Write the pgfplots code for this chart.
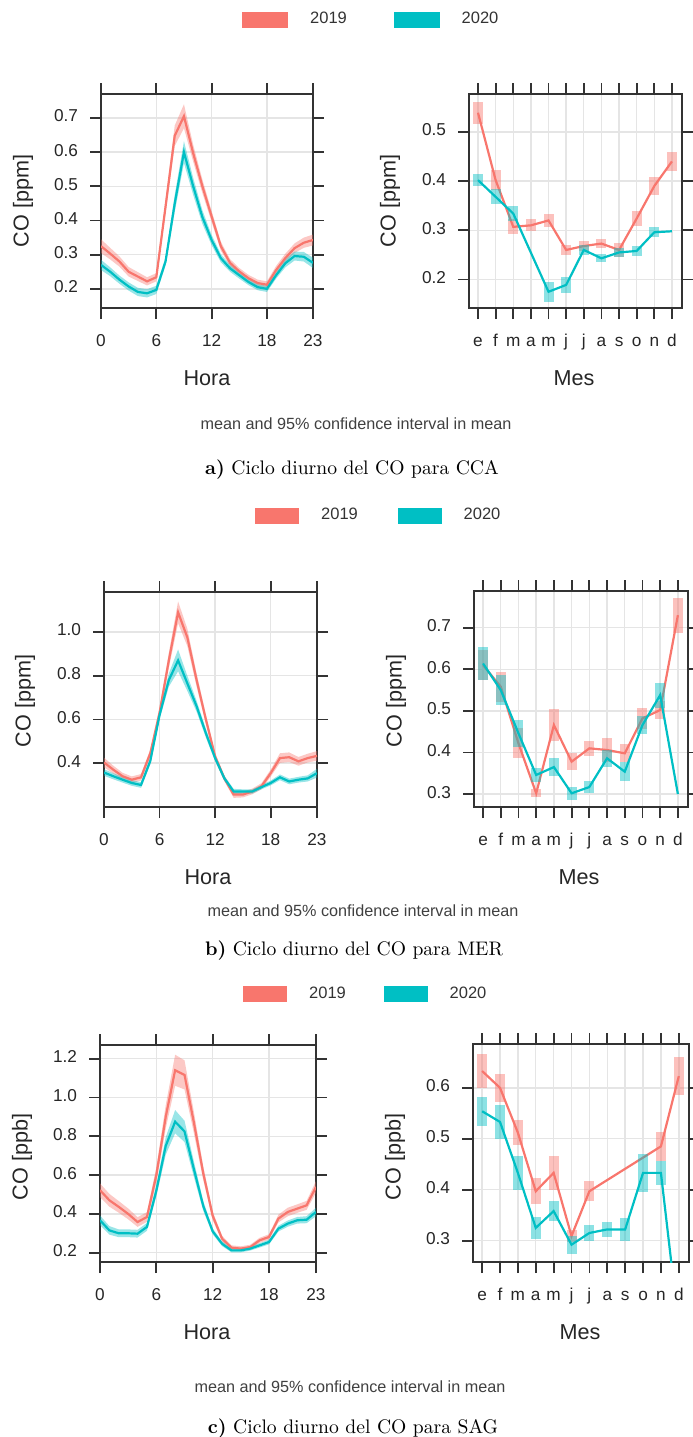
\documentclass[border=0pt]{standalone}
\usepackage{fontspec}
\usepackage{pgfplots}
\usepackage{pgfplotstable}
\pgfplotsset{compat=1.18}
\usepgfplotslibrary{fillbetween}
\newfontfamily\arial{Liberation Sans}
\definecolor{c19}{HTML}{F8766D}
\definecolor{c20}{HTML}{00BFC4}

% hourly means (m) and 95% half-widths (s)
\pgfplotstableread{
h m19 s19 m20 s20
0 0.325 0.020 0.270 0.015
1 0.303 0.017 0.250 0.013
2 0.280 0.015 0.227 0.012
3 0.250 0.014 0.207 0.012
4 0.236 0.013 0.191 0.012
5 0.222 0.012 0.187 0.012
6 0.234 0.012 0.197 0.012
7 0.440 0.020 0.280 0.012
8 0.648 0.030 0.450 0.025
9 0.705 0.035 0.600 0.032
10 0.597 0.025 0.500 0.025
11 0.500 0.020 0.410 0.020
12 0.412 0.016 0.343 0.015
13 0.325 0.013 0.290 0.012
14 0.276 0.011 0.260 0.010
15 0.251 0.010 0.240 0.010
16 0.231 0.010 0.220 0.009
17 0.217 0.010 0.205 0.009
18 0.212 0.010 0.200 0.009
19 0.255 0.012 0.240 0.010
20 0.290 0.013 0.275 0.012
21 0.319 0.014 0.296 0.013
22 0.335 0.015 0.294 0.014
23 0.343 0.016 0.276 0.015
}\hourA
\pgfplotstableread{
h m19 s19 m20 s20
0 0.403 0.022 0.357 0.015
1 0.370 0.018 0.340 0.014
2 0.340 0.016 0.324 0.013
3 0.324 0.015 0.309 0.013
4 0.335 0.015 0.300 0.013
5 0.445 0.018 0.410 0.015
6 0.630 0.025 0.620 0.020
7 0.870 0.035 0.780 0.030
8 1.090 0.050 0.870 0.050
9 0.975 0.040 0.765 0.035
10 0.780 0.030 0.660 0.025
11 0.600 0.022 0.537 0.020
12 0.430 0.016 0.423 0.015
13 0.330 0.013 0.330 0.012
14 0.256 0.015 0.270 0.012
15 0.256 0.013 0.270 0.010
16 0.270 0.013 0.270 0.010
17 0.294 0.014 0.290 0.010
18 0.354 0.016 0.309 0.011
19 0.423 0.022 0.335 0.013
20 0.427 0.022 0.316 0.013
21 0.408 0.020 0.324 0.013
22 0.423 0.020 0.330 0.014
23 0.433 0.022 0.354 0.020
}\hourB
\pgfplotstableread{
h m19 s19 m20 s20
0 0.522 0.035 0.367 0.025
1 0.470 0.033 0.315 0.022
2 0.436 0.030 0.300 0.020
3 0.400 0.028 0.300 0.020
4 0.358 0.025 0.298 0.020
5 0.384 0.025 0.333 0.020
6 0.600 0.040 0.520 0.030
7 0.900 0.060 0.750 0.045
8 1.140 0.080 0.875 0.060
9 1.116 0.075 0.825 0.055
10 0.870 0.055 0.630 0.040
11 0.608 0.035 0.440 0.025
12 0.390 0.022 0.310 0.015
13 0.272 0.015 0.246 0.012
14 0.226 0.012 0.212 0.010
15 0.221 0.012 0.212 0.010
16 0.229 0.012 0.221 0.010
17 0.264 0.013 0.238 0.011
18 0.281 0.014 0.255 0.012
19 0.376 0.020 0.324 0.015
20 0.410 0.022 0.350 0.016
21 0.427 0.022 0.367 0.017
22 0.444 0.023 0.370 0.018
23 0.539 0.030 0.410 0.022
}\hourC

% monthly means (v) and 95% half-widths (e)
\pgfplotstableread{
m v19 e19 v20 e20
1 0.539 0.022 0.402 0.013
2 0.402 0.020 0.368 0.015
3 0.307 0.015 0.334 0.016
4 0.310 0.012 nan nan
5 0.320 0.013 0.175 0.020
6 0.260 0.010 0.189 0.016
7 0.268 0.010 0.260 0.010
8 0.273 0.010 0.243 0.008
9 0.260 0.015 0.255 0.009
10 0.324 0.015 0.258 0.010
11 0.390 0.018 0.296 0.010
12 0.440 0.020 0.298 0
}\monA
\pgfplotstableread{
m v19 e19 v20 e20
1 0.610 0.036 0.614 0.040
2 0.558 0.036 0.550 0.036
3 0.422 0.036 0.446 0.032
4 0.302 0.010 0.346 0.016
5 0.466 0.038 0.365 0.022
6 0.378 0.020 0.302 0.015
7 0.410 0.018 0.317 0.014
8 0.406 0.028 0.386 0.020
9 0.398 0.022 0.354 0.022
10 0.482 0.026 0.466 0.022
11 0.502 0.022 0.538 0.030
12 0.730 0.042 0.300 0
}\monB
\pgfplotstableread{
m v19 e19 v20 e20
1 0.633 0.033 0.554 0.028
2 0.600 0.028 0.533 0.033
3 0.512 0.025 0.433 0.033
4 0.397 0.025 0.325 0.021
5 0.433 0.034 0.358 0.020
6 0.309 0.012 0.292 0.018
7 0.397 0.020 0.315 0.016
8 nan nan 0.322 0.015
9 nan nan 0.322 0.023
10 nan nan 0.433 0.038
11 0.485 0.028 0.433 0.023
12 0.623 0.038 0.130 0
}\monC

\pgfplotsset{
  lat/.style={
    scale only axis,
    axis line style={line width=0.9pt, black!80},
    tick style={line width=0.9pt, black!80},
    tick align=outside, tick pos=both,
    major tick length=5.5pt,
    grid=major,
    major grid style={line width=0.7pt, black!10},
    typeset ticklabels with strut,
    tick label style={font=\arial\fontsize{8.6}{10}\selectfont, text=black!85},
    yticklabel style={xshift=-2.5pt},
    xticklabel style={yshift=-3pt},
  },
  hora/.style={lat, xmin=0, xmax=23, xtick={0,6,12,18,23}, xticklabels={0,6,12,18,23}},
  mes/.style={lat, xmin=0.49, xmax=12.57, xtick={1,2,3,4,5,6,7,8,9,10,11,12},
    xticklabels={e,f,m,a,m,j,j,a,s,o,n,d}},
  leg/.style={legend columns=2,
    legend style={draw=none, fill=none, inner sep=0pt, anchor=west,
      font=\arial\fontsize{8.25}{9}\selectfont, text=black!80,
      /tikz/every odd column/.append style={column sep=9pt},
      /tikz/every even column/.append style={column sep=#1}}},
  mline/.style={line width=1.1pt, error bars/.cd, y dir=both, y explicit, error mark=none,
    error bar style={line width=5pt, opacity=0.45, solid}},
}

% confidence band for one year of the hourly cycle
\newcommand\hband[4]{%
  \addplot[name path=#3u, draw=none, forget plot] table[x=h, y expr=\thisrow{m#2}+\thisrow{s#2}] {#1};
  \addplot[name path=#3l, draw=none, forget plot] table[x=h, y expr=\thisrow{m#2}-\thisrow{s#2}] {#1};
  \addplot[fill=#4, fill opacity=0.4, forget plot] fill between[of=#3u and #3l];
}
\newcommand\legendpair[1]{%
  \addlegendimage{legend image code/.code={\fill[c19] (0pt,-3.75pt) rectangle (#1,3.75pt);}}
  \addlegendentry{2019}
  \addlegendimage{legend image code/.code={\fill[c20] (0pt,-3.75pt) rectangle (#1,3.75pt);}}
  \addlegendentry{2020}
}

\begin{document}
\begin{tikzpicture}

% ---------- a) CCA ----------
\begin{axis}[hora, leg=21.5pt, legend style={at={(0.665,1.348)}},
  at={(50.5pt,-47pt)}, anchor=north west, width=106pt, height=107pt,
  ymin=0.144, ymax=0.770, ytick={0.2,0.3,0.4,0.5,0.6,0.7},
  yticklabels={0.2,0.3,0.4,0.5,0.6,0.7}]
  \legendpair{22.5pt}
  \hband{\hourA}{19}{aa}{c19}
  \hband{\hourA}{20}{ab}{c20}
  \addplot[c19, line width=1.1pt, forget plot] table[x=h, y=m19] {\hourA};
  \addplot[c20, line width=1.1pt, forget plot] table[x=h, y=m20] {\hourA};
\end{axis}
\begin{axis}[mes, at={(234.5pt,-47pt)}, anchor=north west, width=106.5pt, height=107pt,
  ymin=0.142, ymax=0.577, ytick={0.2,0.3,0.4,0.5}, yticklabels={0.2,0.3,0.4,0.5}]
  \addplot[c19, mline] table[x=m, y=v19, y error=e19] {\monA};
  \addplot[c20, mline] table[x=m, y=v20, y error=e20] {\monA};
\end{axis}

% ---------- b) MER ----------
\begin{axis}[hora, leg=18pt, legend style={at={(0.709,1.356)}},
  at={(52pt,-296pt)}, anchor=north west, width=106.5pt, height=107.5pt,
  ymin=0.199, ymax=1.183, ytick={0.4,0.6,0.8,1.0},
  yticklabels={0.4,0.6,0.8,1.0}]
  \legendpair{21.5pt}
  \hband{\hourB}{19}{ba}{c19}
  \hband{\hourB}{20}{bb}{c20}
  \addplot[c19, line width=1.1pt, forget plot] table[x=h, y=m19] {\hourB};
  \addplot[c20, line width=1.1pt, forget plot] table[x=h, y=m20] {\hourB};
\end{axis}
\begin{axis}[mes, at={(237pt,-295.5pt)}, anchor=north west, width=107pt, height=108pt,
  ymin=0.269, ymax=0.788, ytick={0.3,0.4,0.5,0.6,0.7}, yticklabels={0.3,0.4,0.5,0.6,0.7}]
  \addplot[c19, mline] table[x=m, y=v19, y error=e19] {\monB};
  \addplot[c20, mline] table[x=m, y=v20, y error=e20] {\monB};
\end{axis}

% ---------- c) SAG ----------
\begin{axis}[hora, leg=17pt, legend style={at={(0.662,1.235)}},
  at={(50pt,-522.5pt)}, anchor=north west, width=108pt, height=108.5pt,
  ymin=0.152, ymax=1.27, ytick={0.2,0.4,0.6,0.8,1.0,1.2},
  yticklabels={0.2,0.4,0.6,0.8,1.0,1.2}]
  \legendpair{21.5pt}
  \hband{\hourC}{19}{ca}{c19}
  \hband{\hourC}{20}{cb}{c20}
  \addplot[c19, line width=1.1pt, forget plot] table[x=h, y=m19] {\hourC};
  \addplot[c20, line width=1.1pt, forget plot] table[x=h, y=m20] {\hourC};
\end{axis}
\begin{axis}[mes, at={(236.5pt,-522pt)}, anchor=north west, width=108pt, height=109pt,
  ymin=0.258, ymax=0.686, ytick={0.3,0.4,0.5,0.6}, yticklabels={0.3,0.4,0.5,0.6}]
  \addplot[c19, mline] table[x=m, y=v19, y error=e19] {\monC};
  \addplot[c20, mline] table[x=m, y=v20, y error=e20] {\monC};
\end{axis}

% titles, axis names and captions
\begin{scope}[x=0.5pt, y=-0.5pt, every node/.style={inner sep=0pt},
  axname/.style={font=\arial\fontsize{10.8}{12}\selectfont, text=black!85},
  ciline/.style={font=\arial\fontsize{8.1}{9}\selectfont, text=black!75},
  captxt/.style={font=\fontsize{9.8}{11}\selectfont}]
  \node[axname] at (207,378) {Hora};
  \node[axname] at (574,378) {Mes};
  \node[axname, rotate=90] at (23,201) {CO [ppm]};
  \node[axname, rotate=90] at (390,201) {CO [ppm]};
  \node[ciline] at (356,424) {mean and 95\% confidence interval in mean};
  \node[captxt] at (352,470) {\textbf{a)} Ciclo diurno del CO para CCA};

  \node[axname] at (208,877) {Hora};
  \node[axname] at (579,877) {Mes};
  \node[axname, rotate=90] at (25,701) {CO [ppm]};
  \node[axname, rotate=90] at (396,701) {CO [ppm]};
  \node[ciline] at (363,911) {mean and 95\% confidence interval in mean};
  \node[captxt] at (354,951) {\textbf{b)} Ciclo diurno del CO para MER};

  \node[axname] at (207,1332) {Hora};
  \node[axname] at (580,1332) {Mes};
  \node[axname, rotate=90] at (22,1157) {CO [ppb]};
  \node[axname, rotate=90] at (395,1157) {CO [ppb]};
  \node[ciline] at (350,1387) {mean and 95\% confidence interval in mean};
  \node[captxt] at (353,1429) {\textbf{c)} Ciclo diurno del CO para SAG};
  % page frame
  \pgfresetboundingbox
  \path (0,0) rectangle (692,1437);
\end{scope}
\end{tikzpicture}
\end{document}
